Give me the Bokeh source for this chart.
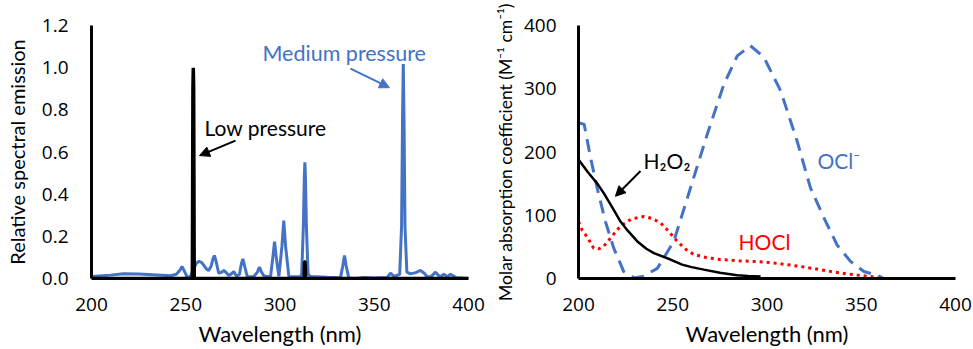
from bokeh.plotting import figure
from bokeh.layouts import row
from bokeh.models import Range1d, FixedTicker, NumeralTickFormatter, Label, Arrow, NormalHead
from bokeh.embed import file_html
from bokeh.resources import INLINE

# ---------------- data ----------------
mp_wl = [200, 210, 217, 225, 235, 242, 245, 247, 248, 249, 250.8, 252.5, 254, 255.5, 257, 258.5,
         259.6, 261, 262.2, 263.5, 264.5, 265.2, 266, 267.5, 269, 270.2, 271.5, 272.8, 274.2, 275.5,
         277, 278.5, 279.5, 280.3, 281.2, 282.6, 286, 288, 289.1, 290.2, 291.5, 293.2, 295, 296.2,
         297.1, 298, 299.4, 301, 302, 303, 304.7, 308, 310.9, 311.5, 312.4, 312.9, 313.2, 313.5, 314,
         314.9, 316.2, 325, 332.1, 333.3, 334.2, 335.1, 336.5, 340, 344.5, 350, 356.9, 358.6, 360.5,
         363.5, 364.5, 365.0, 365.4, 365.8, 366.3, 367.3, 369.2, 372, 374.5, 376.5, 378.1, 380, 382.5,
         384, 385.1, 386.9, 388.7, 390.5, 392, 393.5, 396, 400]
mp_em = [0.010, 0.016, 0.022, 0.021, 0.017, 0.013, 0.020, 0.040, 0.057, 0.040, 0.006, 0.010, 0.040,
         0.070, 0.082, 0.075, 0.062, 0.045, 0.038, 0.060, 0.095, 0.109, 0.085, 0.025, 0.030, 0.038,
         0.028, 0.014, 0.022, 0.033, 0.010, 0.020, 0.070, 0.093, 0.060, 0.010, 0.008, 0.030, 0.054,
         0.030, 0.012, 0.010, 0.010, 0.100, 0.175, 0.100, 0.010, 0.150, 0.275, 0.150, 0.010, 0.008,
         0.010, 0.020, 0.250, 0.480, 0.551, 0.480, 0.250, 0.020, 0.010, 0.006, 0.004, 0.060, 0.109,
         0.060, 0.002, 0.000, 0.005, 0.002, 0.005, 0.025, 0.010, 0.020, 0.250, 0.750, 1.017, 0.750,
         0.250, 0.030, 0.022, 0.028, 0.038, 0.025, 0.008, 0.008, 0.030, 0.015, 0.008, 0.020, 0.008,
         0.020, 0.012, 0.003, 0.002, 0.000]

lp_wl = [200, 253.5, 253.8, 254.0, 254.2, 254.5, 312.8, 313.0, 313.3, 313.6, 400]
lp_em = [0.0, 0.0, 0.9, 1.0, 0.9, 0.0, 0.0, 0.079, 0.079, 0.0, 0.0]

h2o2_wl = [200, 205, 210, 213.4, 218, 222.3, 226, 231.1, 236, 240, 248.8, 255, 260, 266.5, 275, 284.2, 290, 296.6]
h2o2_eps = [188, 168, 150, 135, 112, 90, 76, 59, 47, 40, 30, 22, 18, 14, 9, 5, 4, 3]

hocl_wl = [200, 202, 205, 208, 211, 213.4, 217, 222.3, 228, 234.7, 239, 243.5, 248, 252.3, 257, 261.2,
           268, 275.3, 285, 293, 302, 310.6, 320, 328.3, 338, 346, 354.9, 362]
hocl_eps = [90, 76, 64, 48, 47, 51, 64, 83, 94, 98, 95, 88, 74, 59, 46, 38, 33, 30, 28, 27, 25, 22,
            18, 14, 9, 6, 3, 1]

ocl_wl = [200, 203, 206.4, 209.9, 214.3, 218.7, 224, 229.4, 234, 241.8, 250.6, 259.4, 268.3, 277.1,
          284.2, 291.2, 298.3, 307.2, 316, 323.1, 330.2, 337.2, 344.3, 351.4, 358.5, 362]
ocl_eps = [246, 244, 191, 143, 90, 48, 11, 1, 3, 16, 59, 143, 228, 307, 352, 368, 350, 297, 217, 143,
           96, 53, 27, 11, 5, 0]

x_ticks = [200, 250, 300, 350, 400]
left_y_ticks = [0.0, 0.2, 0.4, 0.6, 0.8, 1.0, 1.2]
right_y_ticks = [0, 100, 200, 300, 400]

BLUE = "#4472C4"
RED = "#FF0000"
FONT = "Lato"
TICKFONT = "Open Sans"


def style(p, yticks, ylabel, ylabel_size):
    p.xgrid.visible = False
    p.ygrid.visible = False
    p.outline_line_color = None
    p.background_fill_color = "white"
    p.border_fill_color = "white"
    p.xaxis.ticker = FixedTicker(ticks=x_ticks)
    p.yaxis.ticker = FixedTicker(ticks=yticks)
    for ax in (p.xaxis[0], p.yaxis[0]):
        ax.axis_line_width = 3
        ax.axis_line_color = "black"
        ax.major_tick_line_color = None
        ax.minor_tick_line_color = None
        ax.major_label_text_font = TICKFONT
        ax.major_label_text_font_size = "19px"
        ax.major_label_text_color = "black"
        ax.axis_label_text_font = FONT
        ax.axis_label_text_font_style = "normal"
        ax.axis_label_text_color = "black"
    p.xaxis.axis_label = "Wavelength (nm)"
    p.xaxis.axis_label_text_font_size = "22px"
    p.xaxis.major_label_standoff = 13
    p.xaxis.axis_label_standoff = 6
    p.yaxis.axis_label = ylabel
    p.yaxis.axis_label_text_font_size = ylabel_size


# ---------------- left ----------------
p1 = figure(width=490, height=349, output_backend="svg", toolbar_location=None,
            x_range=Range1d(200, 400), y_range=Range1d(0, 1.2),
            min_border_left=91, min_border_right=22, min_border_top=25, min_border_bottom=71)
style(p1, left_y_ticks, "Relative spectral emission", "20px")
p1.yaxis.formatter = NumeralTickFormatter(format="0.0")
p1.yaxis.major_label_standoff = 17
p1.yaxis.axis_label_standoff = 10

p1.line(mp_wl, mp_em, line_color=BLUE, line_width=3)
p1.line(lp_wl, lp_em, line_color="black", line_width=3.5)

p1.add_layout(Label(x=290.7, y=1.071, text="Medium pressure", text_font=FONT, text_font_size="21.5px",
                    text_color=BLUE, text_baseline="middle"))
p1.add_layout(Arrow(end=NormalHead(size=10, fill_color=BLUE, line_color=BLUE), x_start=337.4, y_start=0.995,
                    x_end=358.1, y_end=0.905, line_color=BLUE, line_width=2))
p1.add_layout(Label(x=260, y=0.716, text="Low pressure", text_font=FONT, text_font_size="21px",
                    text_color="black", text_baseline="middle"))
p1.add_layout(Arrow(end=NormalHead(size=10, fill_color="black", line_color="black"), x_start=276.4, y_start=0.654,
                    x_end=257.3, y_end=0.583, line_color="black", line_width=2))

# ---------------- right ----------------
p2 = figure(width=483, height=349, output_backend="svg", toolbar_location=None,
            x_range=Range1d(200, 400), y_range=Range1d(0, 400),
            min_border_left=88, min_border_right=18, min_border_top=25, min_border_bottom=71)
style(p2, right_y_ticks, "Molar absorption coefficient (M\u207b\u00b9 cm\u207b\u00b9)", "17.5px")
p2.yaxis.major_label_standoff = 16
p2.yaxis.axis_label_standoff = 5

p2.line(hocl_wl, hocl_eps, line_color=RED, line_width=3, line_dash="3 4")
p2.line(ocl_wl, ocl_eps, line_color=BLUE, line_width=3, line_dash="13 8")
p2.line(h2o2_wl, h2o2_eps, line_color="black", line_width=2.5)

p2.add_layout(Label(x=234.5, y=186, text="H\u2082O\u2082", text_font=FONT, text_font_size="21px",
                    text_color="black", text_baseline="middle"))
p2.add_layout(Arrow(end=NormalHead(size=10, fill_color="black", line_color="black"), x_start=232.9, y_start=170,
                    x_end=219.6, y_end=130, line_color="black", line_width=2))
p2.add_layout(Label(x=326.8, y=186, text="OCl\u207b", text_font=FONT, text_font_size="21px",
                    text_color=BLUE, text_baseline="middle"))
p2.add_layout(Label(x=284.9, y=59, text="HOCl", text_font=FONT, text_font_size="21px",
                    text_color=RED, text_baseline="middle"))

layout = row(p1, p2)
open("out.html", "w").write(file_html(layout, INLINE))
